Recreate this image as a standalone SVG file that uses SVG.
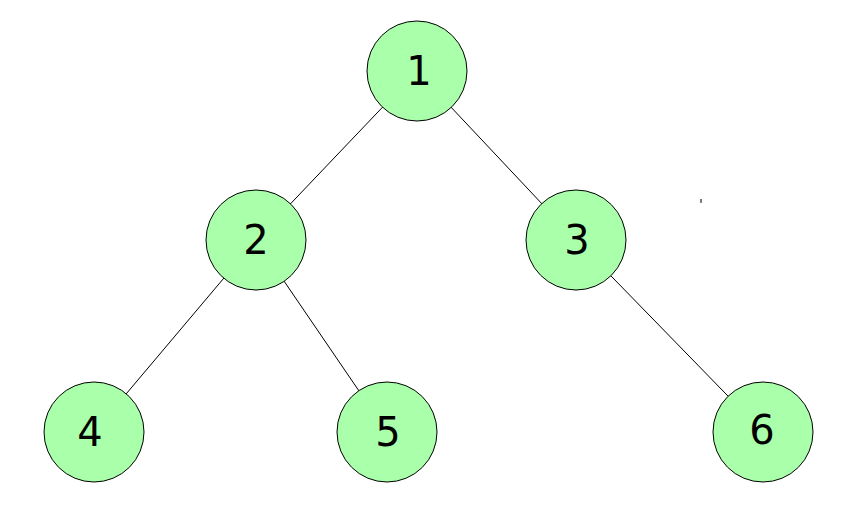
<svg xmlns="http://www.w3.org/2000/svg" width="846" height="505" viewBox="0 0 846 505">
<style>
.n circle{fill:#aaffaa;stroke:#000;stroke-width:1}
.n text{font-family:"DejaVu Sans",sans-serif;font-size:40px;text-anchor:middle;fill:#000}
.e line{stroke:#000;stroke-width:1}
</style>
<rect width="846" height="505" fill="#fff"/>
<g id="edges" class="e">
<line x1="417" y1="71" x2="256" y2="240"/>
<line x1="417" y1="71" x2="576" y2="240"/>
<line x1="256" y1="240" x2="94" y2="432"/>
<line x1="256" y1="240" x2="387" y2="432"/>
<line x1="576" y1="240" x2="763" y2="432"/>
</g>
<g id="n1" class="n"><circle cx="417" cy="71" r="50"/><text x="419" y="85">1</text></g>
<g id="n2" class="n"><circle cx="256" cy="240" r="50"/><text x="256" y="254">2</text></g>
<g id="n3" class="n"><circle cx="576" cy="240" r="50"/><text x="577" y="254">3</text></g>
<g id="n4" class="n"><circle cx="94" cy="432" r="50"/><text x="90" y="446">4</text></g>
<g id="n5" class="n"><circle cx="387" cy="432" r="50"/><text x="388" y="446">5</text></g>
<g id="n6" class="n"><circle cx="763" cy="432" r="50"/><text x="762" y="444">6</text></g>
<text x="701" y="209" font-family="DejaVu Sans,sans-serif" font-size="14" font-style="italic" text-anchor="middle" fill="#222">'</text>
</svg>
